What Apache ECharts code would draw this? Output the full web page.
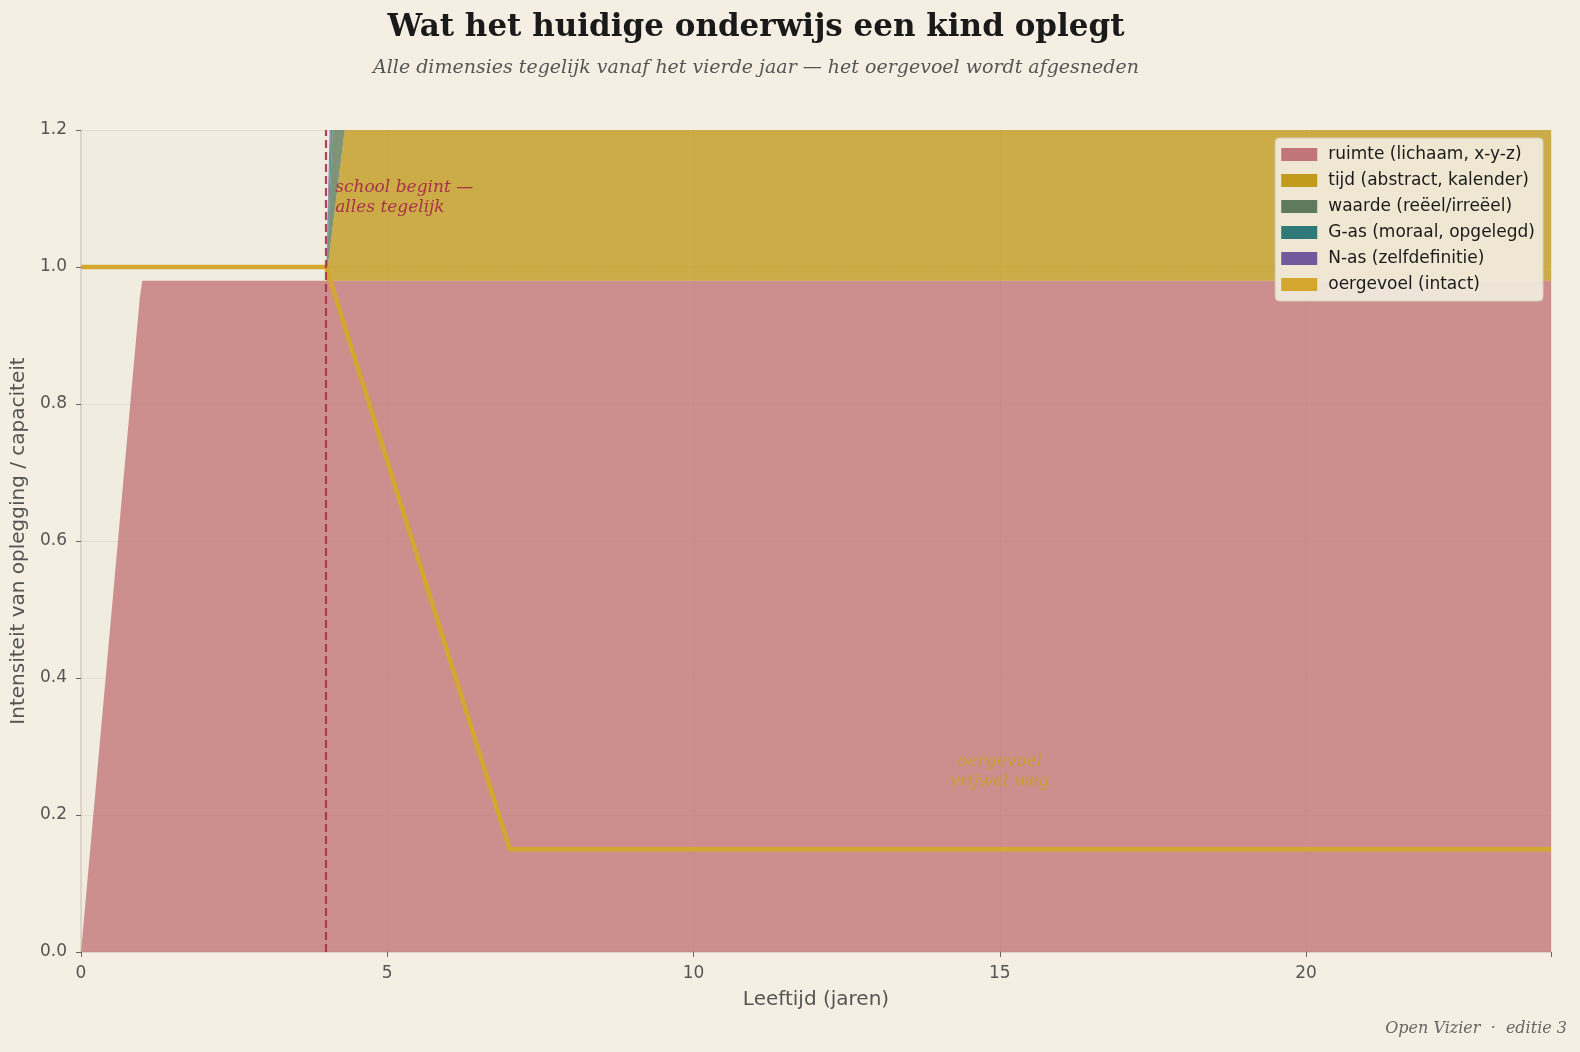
<!DOCTYPE html>
<html>
<head>
<meta charset="utf-8">
<script src="https://cdn.jsdelivr.net/npm/echarts@6/dist/echarts.min.js"></script>
<style>
html,body{margin:0;padding:0;background:#f5efe3;}
#c{width:1580px;height:1052px;}
</style>
</head>
<body>
<div id="c"></div>
<script>
// ---- data ----
const ages      = [0, 0.96, 1.0, 4, 4.5, 7, 24];
const ruimte    = [0, 0.955, 0.98, 0.98, 0.98, 0.98, 0.98];
const tijd      = [0, 0, 0, 0, 0.36, 0.8, 0.9];
const waarde    = [0, 0, 0, 0, 0.64, 0.7, 0.7];
const gAs       = [0, 0, 0, 0, 0.38, 0.6, 0.6];
const nAs       = [0, 0, 0, 0, 0.46, 0.6, 0.6];
const oerAges   = [0, 4, 7, 24];
const oergevoel = [1.0, 1.0, 0.15, 0.15];
const potAges   = [4, 24];
const potentie  = [1.0, 1.0];
const schoolStart = 4;
const layerNames = ['ruimte (lichaam, x-y-z)', 'tijd (abstract, kalender)', 'waarde (reëel/irreëel)', 'G-as (moraal, opgelegd)', 'N-as (zelfdefinitie)'];
const oerName = 'oergevoel (intact)';
const xTicks = [0, 5, 10, 15, 20];
const yTicks = [0, 0.2, 0.4, 0.6, 0.8, 1.0, 1.2];

const SANS = 'DejaVu Sans';
const layerColors = ['#c27576', '#c29a1c', '#5f7a5c', '#2f7a78', '#72589c'];
const layerVals = [ruimte, tijd, waarde, gAs, nAs];

const chart = echarts.init(document.getElementById('c'), null, {renderer: 'canvas'});

// value first, age second so that the stacked dimension is the value (y)
const series = layerVals.map((vals, k) => ({
  name: layerNames[k],
  type: 'line',
  stack: 'dims',
  dimensions: ['v', 'age'],
  encode: {x: 'age', y: 'v'},
  data: ages.map((a, i) => [vals[i], a]),
  showSymbol: false,
  symbol: 'none',
  clip: true,
  lineStyle: {width: 0, opacity: 0},
  itemStyle: {color: layerColors[k]},
  areaStyle: {color: layerColors[k], opacity: 0.78},
  z: 2
}));

series.push({
  name: 'potentie',
  type: 'line',
  data: potAges.map((a, i) => [a, potentie[i]]),
  showSymbol: false, symbol: 'none',
  lineStyle: {color: '#d4a72f', width: 2, type: [2, 4], opacity: 0.45},
  z: 3
});

series.push({
  name: oerName,
  type: 'line',
  data: oerAges.map((a, i) => [a, oergevoel[i]]),
  showSymbol: false, symbol: 'none',
  clip: true,
  lineStyle: {color: '#d4a72f', width: 4.5},
  itemStyle: {color: '#d4a72f'},
  z: 4,
  markLine: {
    silent: true,
    symbol: ['none', 'none'],
    label: {show: false},
    lineStyle: {color: '#a8324a', width: 2.2, type: [8, 4], opacity: 0.9},
    data: [{xAxis: schoolStart}],
    z: 5
  }
});

const option = {
  backgroundColor: '#f5efe3',
  animation: false,
  grid: {left: 81, right: 29, top: 130, bottom: 100, show: true, backgroundColor: '#f0ece0', borderWidth: 0},
  xAxis: {
    type: 'value', min: 0, max: 24, interval: 5,
    name: 'Leeftijd (jaren)', nameLocation: 'middle', nameGap: 38,
    nameTextStyle: {fontFamily: SANS, fontSize: 20, color: '#555'},
    axisLine: {show: true, lineStyle: {color: '#d6cfc0', width: 1.5}},
    axisTick: {show: true, length: 5, lineStyle: {color: '#666'}},
    axisLabel: {fontFamily: SANS, fontSize: 17, color: '#555', margin: 13,
      formatter: v => xTicks.includes(v) ? String(v) : ''},
    splitLine: {show: true, lineStyle: {color: 'rgba(120,110,90,0.10)', width: 1}}
  },
  yAxis: {
    type: 'value', min: 0, max: 1.2, interval: 0.2,
    name: 'Intensiteit van oplegging / capaciteit', nameLocation: 'middle', nameGap: 52,
    nameTextStyle: {fontFamily: SANS, fontSize: 20, color: '#555'},
    axisLine: {show: true, lineStyle: {color: '#d6cfc0', width: 1.5}},
    axisTick: {show: true, length: 5, lineStyle: {color: '#666'}},
    axisLabel: {fontFamily: SANS, fontSize: 17, color: '#555', margin: 14,
      formatter: v => { const t = yTicks.find(t => Math.abs(t - v) < 1e-9); return t === undefined ? '' : t.toFixed(1); }},
    splitLine: {show: true, lineStyle: {color: 'rgba(120,110,90,0.10)', width: 1}}
  },
  legend: {
    data: layerNames.concat([oerName]),
    orient: 'vertical',
    right: 37, top: 138,
    icon: 'rect',
    itemWidth: 36, itemHeight: 13, itemGap: 9,
    padding: [8, 8, 8, 6],
    backgroundColor: 'rgba(242,236,222,0.92)',
    borderColor: '#d8d0c0', borderWidth: 1, borderRadius: 4,
    textStyle: {fontFamily: SANS, fontSize: 17, color: '#1a1a1a', padding: [0, 0, 0, 6]}
  },
  series: series
};
chart.setOption(option);

const p1 = chart.convertToPixel({gridIndex: 0}, [4.15, 1.101]);
const p2 = chart.convertToPixel({gridIndex: 0}, [15.0, 0.263]);

chart.setOption({
  graphic: [
    {type: 'text', z: 10, style: {
      text: 'Wat het huidige onderwijs een kind oplegt', font: 'bold 31px "DejaVu Serif"', fill: '#1a1a1a',
      x: 756, y: 28, textAlign: 'center', textVerticalAlign: 'middle'}},
    {type: 'text', z: 10, style: {
      text: 'Alle dimensies tegelijk vanaf het vierde jaar — het oergevoel wordt afgesneden', font: 'italic 19px "DejaVu Serif"', fill: '#555',
      x: 756, y: 68, textAlign: 'center', textVerticalAlign: 'middle'}},
    {type: 'text', z: 10, style: {
      text: 'school begint —\nalles tegelijk', font: 'italic 17px "DejaVu Serif"', fill: '#a8324a',
      x: p1[0], y: p1[1], textAlign: 'left', textVerticalAlign: 'middle', lineHeight: 20}},
    {type: 'text', z: 10, style: {
      text: 'oergevoel\nvrijwel weg', font: 'italic 17px "DejaVu Serif"', fill: 'rgba(200,160,40,0.9)',
      x: p2[0], y: p2[1], textAlign: 'center', textVerticalAlign: 'middle', lineHeight: 20}},
    {type: 'text', z: 10, style: {
      text: 'Open Vizier  ·  editie 3', font: 'italic 16px "DejaVu Serif"', fill: '#666',
      x: 1567, y: 1029, textAlign: 'right', textVerticalAlign: 'middle'}}
  ]
});
</script>
</body>
</html>
